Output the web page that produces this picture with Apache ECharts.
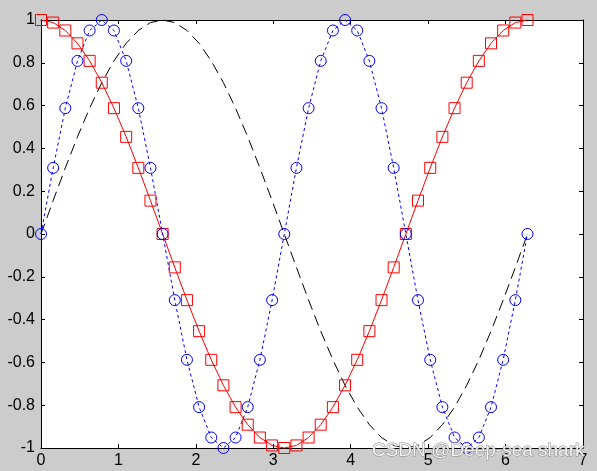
<!DOCTYPE html>
<html><head><meta charset="utf-8">
<script src="https://cdn.jsdelivr.net/npm/echarts@6/dist/echarts.min.js"></script>
<style>html,body{margin:0;padding:0;background:#cccccc;}#c{width:597px;height:471px;}</style>
</head><body><div id="c"></div>
<script>
const xVals = [0,0.157,0.314,0.471,0.628,0.785,0.942,1.100,1.257,1.414,1.571,1.728,1.885,2.042,2.199,2.356,2.513,2.670,2.827,2.985,3.142,3.299,3.456,3.613,3.770,3.927,4.084,4.241,4.398,4.555,4.712,4.869,5.027,5.184,5.341,5.498,5.655,5.812,5.969,6.126,6.283];
const sinVals = [0,0.156,0.309,0.454,0.588,0.707,0.809,0.891,0.951,0.988,1,0.988,0.951,0.891,0.809,0.707,0.588,0.454,0.309,0.156,0,-0.156,-0.309,-0.454,-0.588,-0.707,-0.809,-0.891,-0.951,-0.988,-1,-0.988,-0.951,-0.891,-0.809,-0.707,-0.588,-0.454,-0.309,-0.156,0];
const cosVals = [1,0.988,0.951,0.891,0.809,0.707,0.588,0.454,0.309,0.156,0,-0.156,-0.309,-0.454,-0.588,-0.707,-0.809,-0.891,-0.951,-0.988,-1,-0.988,-0.951,-0.891,-0.809,-0.707,-0.588,-0.454,-0.309,-0.156,0,0.156,0.309,0.454,0.588,0.707,0.809,0.891,0.951,0.988,1];
const sin2Vals = [0,0.309,0.588,0.809,0.951,1,0.951,0.809,0.588,0.309,0,-0.309,-0.588,-0.809,-0.951,-1,-0.951,-0.809,-0.588,-0.309,0,0.309,0.588,0.809,0.951,1,0.951,0.809,0.588,0.309,0,-0.309,-0.588,-0.809,-0.951,-1,-0.951,-0.809,-0.588,-0.309,0];
const xTicks = [0,1,2,3,4,5,6,7];
const yTicks = [-1,-0.8,-0.6,-0.4,-0.2,0,0.2,0.4,0.6,0.8,1];

const pair = v => xVals.map((x,i)=>[x,v[i]]);
const chart = echarts.init(document.getElementById('c'));
const font = {fontFamily:'Liberation Sans, Arial, sans-serif', fontSize:16, color:'#000'};
const axLine = {show:true, onZero:false, lineStyle:{color:'#000', width:1}};
const tick = {show:true, inside:true, length:4, lineStyle:{color:'#000'}};
chart.setOption({
  backgroundColor:'#cccccc',
  animation:false,
  grid:{left:41, top:20, right:14, bottom:23, show:true, backgroundColor:'#ffffff', borderWidth:0},
  xAxis:[
    {type:'value', min:0, max:7, interval:1, position:'bottom', axisLine:axLine, axisTick:tick, splitLine:{show:false},
     axisLabel:Object.assign({margin:5, formatter:v=>String(v)}, font)},
    {type:'value', min:0, max:7, interval:1, position:'top', axisLine:axLine, axisTick:tick, splitLine:{show:false}, axisLabel:{show:false}}
  ],
  yAxis:[
    {type:'value', min:-1, max:1, interval:0.2, position:'left', axisLine:axLine, axisTick:tick, splitLine:{show:false},
     axisLabel:Object.assign({margin:6, formatter:v=>{const r=Math.round(v*10)/10; return String(r);}}, font)},
    {type:'value', min:-1, max:1, interval:0.2, position:'right', axisLine:axLine, axisTick:tick, splitLine:{show:false}, axisLabel:{show:false}}
  ],
  series:[
    {type:'line', data:pair(sinVals), showSymbol:false, symbol:'none', clip:false,
     lineStyle:{color:'#000', width:1, type:[11,6]}},
    {type:'line', data:pair(cosVals), symbol:'rect', symbolSize:11, clip:false,
     lineStyle:{color:'#ff0000', width:1},
     itemStyle:{color:'rgba(0,0,0,0)', borderColor:'#ff0000', borderWidth:1}},
    {type:'line', data:pair(sin2Vals), symbol:'circle', symbolSize:11, clip:false,
     lineStyle:{color:'#0000ff', width:1, type:[3,3]},
     itemStyle:{color:'rgba(0,0,0,0)', borderColor:'#0000ff', borderWidth:1}}
  ],
  graphic:[{type:'text', right:12, top:441, z:100,
    style:{text:'CSDN @Deep-sea shark', fontFamily:'Liberation Sans, Arial, sans-serif', fontSize:19,
      fill:'rgba(255,255,255,0.85)', stroke:'#8a8a8a', lineWidth:1}}]
});
</script></body></html>
